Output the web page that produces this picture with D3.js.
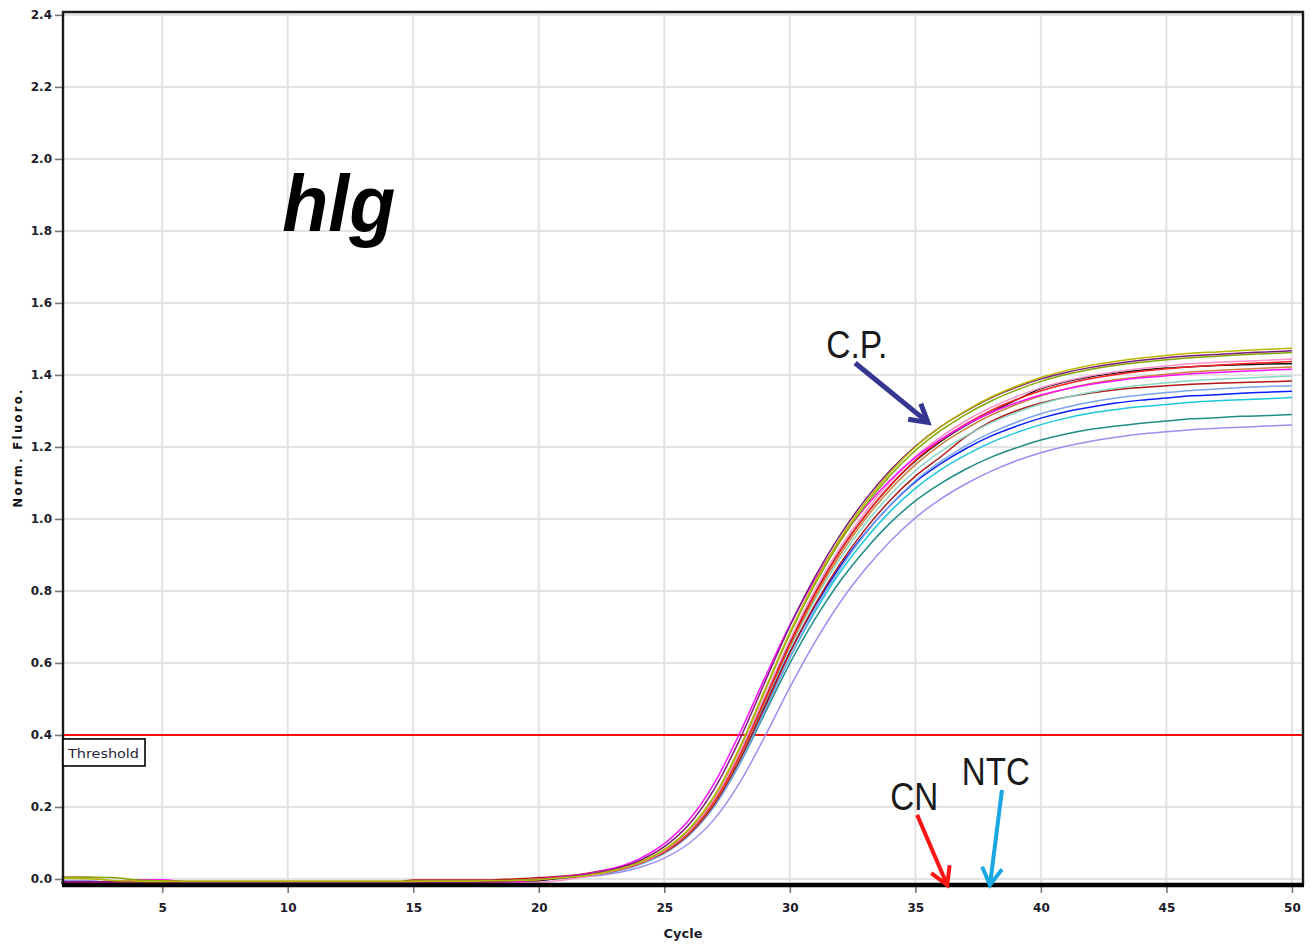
<!DOCTYPE html>
<html>
<head>
<meta charset="utf-8">
<script src="https://cdn.jsdelivr.net/npm/d3@7"></script>
<style>
  html, body { margin: 0; padding: 0; background: #fff; }
  svg { display: block; }
</style>
</head>
<body>
<svg id="chart" width="1314" height="947"></svg>
<script>
// ---- data: normalised fluorescence per amplification cycle ----
const cycles = [1,2,3,4,5,6,7,8,9,10,11,12,13,14,15,16,17,18,19,20,21,22,23,24,25,26,27,28,29,30,31,32,33,34,35,36,37,38,39,40,41,42,43,44,45,46,47,48,49,50];

const xTicks = [5,10,15,20,25,30,35,40,45,50];
const yTicks = [0.0,0.2,0.4,0.6,0.8,1.0,1.2,1.4,1.6,1.8,2.0,2.2,2.4];
const threshold = 0.4;

const lavender = [-0.004,-0.004,-0.010,-0.010,-0.010,-0.010,-0.010,-0.010,-0.010,-0.010,-0.010,-0.010,-0.010,-0.010,-0.010,-0.010,-0.010,-0.010,-0.010,-0.005,
  0.002,0.007,0.016,0.032,0.058,0.100,0.167,0.267,0.395,0.532,0.658,0.768,0.860,0.938,1.003,1.055,1.097,1.132,1.161,1.184,1.202,1.216,1.227,1.236,1.242,1.248,1.252,1.255,1.258,1.261];
const teal = [-0.009,-0.009,-0.009,-0.009,-0.009,-0.009,-0.009,-0.009,-0.009,-0.009,-0.009,-0.009,-0.009,-0.009,-0.009,-0.009,-0.009,-0.009,-0.009,-0.003,
  0.004,0.010,0.021,0.040,0.072,0.123,0.203,0.319,0.459,0.599,0.722,0.827,0.914,0.989,1.050,1.098,1.138,1.171,1.197,1.219,1.236,1.249,1.258,1.266,1.272,1.278,1.281,1.285,1.287,1.290];
const cyan = [-0.009,-0.009,-0.009,-0.009,-0.009,-0.009,-0.009,-0.009,-0.009,-0.009,-0.009,-0.009,-0.009,-0.009,-0.009,-0.009,-0.009,-0.009,-0.009,-0.003,
  0.003,0.010,0.021,0.041,0.073,0.124,0.206,0.325,0.469,0.614,0.742,0.852,0.943,1.021,1.085,1.136,1.177,1.212,1.239,1.262,1.280,1.294,1.304,1.312,1.318,1.324,1.328,1.331,1.334,1.337];
const blue = [-0.010,-0.010,-0.010,-0.010,-0.010,-0.010,-0.010,-0.010,-0.010,-0.010,-0.010,-0.010,-0.010,-0.010,-0.010,-0.010,-0.010,-0.010,-0.010,-0.003,
  0.004,0.010,0.022,0.042,0.075,0.129,0.213,0.335,0.482,0.630,0.758,0.868,0.960,1.038,1.103,1.153,1.195,1.230,1.257,1.280,1.298,1.311,1.322,1.330,1.336,1.342,1.345,1.349,1.352,1.355];
const cornflower = [-0.009,-0.009,-0.009,-0.009,-0.009,-0.009,-0.009,-0.009,-0.009,-0.009,-0.009,-0.009,-0.009,-0.009,-0.009,-0.009,-0.009,-0.009,-0.009,-0.003,
  0.003,0.009,0.021,0.040,0.071,0.122,0.203,0.321,0.466,0.615,0.748,0.862,0.958,1.039,1.106,1.159,1.203,1.239,1.268,1.292,1.310,1.325,1.336,1.344,1.351,1.357,1.361,1.365,1.368,1.370];
const darkRed = [-0.013,-0.013,-0.013,-0.013,-0.013,-0.013,-0.013,-0.013,-0.013,-0.013,-0.013,-0.013,-0.013,-0.013,-0.003,-0.003,-0.003,-0.003,0.000,0.004,
  0.008,0.017,0.030,0.048,0.074,0.126,0.209,0.330,0.477,0.628,0.761,0.875,0.971,1.052,1.119,1.172,1.228,1.270,1.300,1.322,1.338,1.350,1.359,1.365,1.370,1.374,1.377,1.379,1.381,1.383];
const aquamarine = [-0.008,-0.008,-0.008,-0.008,-0.008,-0.008,-0.008,-0.008,-0.008,-0.008,-0.008,-0.008,-0.008,-0.008,-0.008,-0.008,-0.008,-0.008,-0.008,-0.002,
  0.004,0.010,0.022,0.043,0.076,0.130,0.216,0.340,0.490,0.642,0.775,0.890,0.986,1.067,1.134,1.187,1.230,1.267,1.295,1.319,1.338,1.352,1.363,1.371,1.378,1.384,1.388,1.391,1.394,1.397];
const brown = [-0.009,-0.009,-0.009,-0.009,-0.009,-0.009,-0.009,-0.009,-0.009,-0.009,-0.009,-0.009,-0.009,-0.009,-0.009,-0.009,-0.009,-0.009,-0.009,-0.003,
  0.003,0.010,0.022,0.042,0.076,0.130,0.215,0.339,0.491,0.646,0.783,0.900,0.999,1.082,1.151,1.206,1.250,1.288,1.317,1.342,1.361,1.376,1.387,1.395,1.402,1.408,1.412,1.416,1.419,1.422];
const blackWell = [-0.014,-0.014,-0.014,-0.014,-0.014,-0.014,-0.014,-0.014,-0.014,-0.014,-0.014,-0.014,-0.014,-0.014,-0.014,-0.014,-0.014,-0.014,-0.010,-0.005,
  0.004,0.010,0.023,0.044,0.078,0.133,0.221,0.348,0.501,0.657,0.793,0.911,1.009,1.092,1.161,1.215,1.259,1.296,1.330,1.362,1.381,1.395,1.405,1.413,1.419,1.423,1.426,1.428,1.430,1.431];
const red = [-0.009,-0.009,-0.009,-0.009,-0.009,-0.009,-0.009,-0.009,-0.009,-0.009,-0.009,-0.009,-0.009,-0.009,-0.009,-0.009,-0.009,-0.009,-0.004,-0.001,
  0.004,0.010,0.022,0.043,0.076,0.131,0.217,0.343,0.496,0.652,0.791,0.910,1.009,1.093,1.163,1.218,1.263,1.301,1.331,1.356,1.375,1.390,1.401,1.410,1.417,1.423,1.427,1.431,1.434,1.437];
const pink = [0.006,0.006,-0.006,-0.007,-0.007,-0.007,-0.007,-0.007,-0.007,-0.007,-0.007,-0.007,-0.007,-0.007,-0.007,-0.007,-0.007,-0.007,-0.009,-0.009,
  -0.003,0.008,0.023,0.044,0.079,0.134,0.223,0.351,0.507,0.663,0.802,0.920,1.019,1.103,1.173,1.227,1.272,1.309,1.339,1.364,1.383,1.398,1.409,1.418,1.425,1.431,1.435,1.438,1.441,1.444];
const magenta = [-0.008,-0.008,-0.008,-0.002,-0.002,-0.008,-0.008,-0.008,-0.008,-0.008,-0.008,-0.008,-0.008,-0.008,-0.008,-0.008,-0.008,-0.008,-0.008,0.000,
  0.006,0.015,0.030,0.056,0.098,0.165,0.267,0.404,0.558,0.705,0.832,0.941,1.032,1.108,1.171,1.220,1.261,1.295,1.322,1.344,1.361,1.374,1.384,1.392,1.398,1.403,1.407,1.410,1.413,1.416];
const oliveGreen = [0.005,0.005,0.004,-0.003,-0.005,-0.006,-0.006,-0.006,-0.006,-0.006,-0.006,-0.006,-0.006,-0.006,-0.006,-0.006,-0.006,-0.006,-0.004,-0.001,
  0.004,0.011,0.024,0.046,0.081,0.139,0.230,0.362,0.521,0.680,0.818,0.937,1.037,1.121,1.190,1.245,1.290,1.327,1.357,1.382,1.401,1.416,1.427,1.435,1.442,1.448,1.452,1.456,1.459,1.462];
const purple = [-0.008,-0.008,-0.008,-0.008,-0.008,-0.008,-0.008,-0.008,-0.008,-0.008,-0.008,-0.008,-0.008,-0.008,-0.008,-0.008,-0.008,-0.007,-0.005,-0.002,
  0.005,0.013,0.027,0.051,0.090,0.153,0.251,0.387,0.546,0.702,0.839,0.955,1.053,1.135,1.202,1.256,1.299,1.336,1.365,1.389,1.407,1.421,1.432,1.441,1.448,1.453,1.457,1.461,1.464,1.467];
const oliveYellow = [0.002,0.001,-0.004,-0.006,-0.007,-0.007,-0.007,-0.007,-0.007,-0.007,-0.007,-0.007,-0.007,-0.007,-0.007,-0.006,-0.006,-0.005,-0.004,-0.002,
  0.004,0.011,0.024,0.046,0.082,0.140,0.232,0.365,0.525,0.685,0.825,0.945,1.045,1.130,1.200,1.255,1.300,1.338,1.368,1.393,1.412,1.427,1.438,1.447,1.454,1.460,1.464,1.468,1.471,1.474];

// wells in drawing order (last drawn on top)
const wells = [
  { values: lavender,    color: "#9c8ef0" },
  { values: teal,        color: "#1f8c86" },
  { values: cyan,        color: "#1cc8d8" },
  { values: blue,        color: "#0a1eff" },
  { values: cornflower,  color: "#79a4ee" },
  { values: darkRed,     color: "#b01818" },
  { values: aquamarine,  color: "#86d8c4" },
  { values: brown,       color: "#c8843c" },
  { values: blackWell,   color: "#111111" },
  { values: red,         color: "#ff2020" },
  { values: pink,        color: "#ff90c8" },
  { values: magenta,     color: "#ff10ff" },
  { values: oliveGreen,  color: "#80a800" },
  { values: purple,      color: "#7d1a7d" },
  { values: oliveYellow, color: "#b8b800" }
];

// callouts, positioned in (cycle, fluorescence) units
const labels = [
  { text: "C.P.", cycle: 31.45, value: 1.448, size: 38, width: 61, color: "#1a1a1a" },
  { text: "CN",   cycle: 34.0,  value: 0.192, size: 38, width: 48, color: "#1a1a1a" },
  { text: "NTC",  cycle: 36.85, value: 0.262, size: 38, width: 68, color: "#1a1a1a" }
];
const arrows = [
  { from: [32.6, 1.433],  to: [35.5, 1.268],  color: "#363692", width: 5 },
  { from: [35.07, 0.178], to: [36.27, -0.017], color: "#ff1414", width: 4 },
  { from: [38.45, 0.247], to: [37.97, -0.017], color: "#1aa6e2", width: 4 }
];

// ---- layout ----
const svg = d3.select("#chart");
const plotL = 63, plotR = 1303, plotT = 12, plotB = 885;

const x = d3.scaleLinear().domain([1.05, 50.44]).range([plotL, plotR]);
const y = d3.scaleLinear().domain([-0.0167, 2.408]).range([plotB, plotT]);

svg.append("rect").attr("width", 1314).attr("height", 947).attr("fill", "#fff");

// grid
svg.append("g").selectAll("line").data(xTicks).join("line")
  .attr("x1", d => x(d)).attr("x2", d => x(d))
  .attr("y1", plotT).attr("y2", plotB)
  .attr("stroke", "#e3e3e3").attr("stroke-width", 2);
svg.append("g").selectAll("line").data(yTicks).join("line")
  .attr("x1", plotL).attr("x2", plotR)
  .attr("y1", d => y(d)).attr("y2", d => y(d))
  .attr("stroke", "#e3e3e3").attr("stroke-width", 2);

// axes
const tickFont = "'DejaVu Sans', Verdana, sans-serif";
const xAxis = d3.axisBottom(x).tickValues(xTicks).tickSize(8).tickPadding(10).tickFormat(d3.format("d"));
const gx = svg.append("g").attr("transform", `translate(0,${plotB})`).call(xAxis);
const yAxis = d3.axisLeft(y).tickValues(yTicks).tickSize(8).tickPadding(3).tickFormat(d3.format(".1f"));
const gy = svg.append("g").attr("transform", `translate(${plotL},0)`).call(yAxis);
[gx, gy].forEach(g => {
  g.select(".domain").remove();
  g.selectAll(".tick line").attr("stroke", "#777").attr("stroke-width", 1.6);
  g.selectAll(".tick text")
    .attr("fill", "#1c1c2a")
    .style("font-family", tickFont)
    .style("font-size", "12px")
    .style("font-weight", "bold");
});

// threshold
svg.append("line")
  .attr("x1", plotL).attr("x2", plotR)
  .attr("y1", y(threshold)).attr("y2", y(threshold))
  .attr("stroke", "#ff0a0a").attr("stroke-width", 2);

// amplification curves
const line = d3.line()
  .x((d, i) => x(cycles[i]))
  .y(d => y(d))
  .curve(d3.curveMonotoneX);
svg.append("g").selectAll("path").data(wells).join("path")
  .attr("d", d => line(d.values))
  .attr("fill", "none")
  .attr("stroke", d => d.color)
  .attr("stroke-width", 1.5);

// frame
svg.append("path")
  .attr("d", `M${plotL},${plotB} L${plotL},${plotT} L${plotR},${plotT} L${plotR},${plotB}`)
  .attr("fill", "none").attr("stroke", "#1a1a1a").attr("stroke-width", 2.4);
svg.append("line")
  .attr("x1", plotL - 1).attr("x2", plotR + 1)
  .attr("y1", plotB).attr("y2", plotB)
  .attr("stroke", "#000").attr("stroke-width", 4.5);

// threshold tag
const tag = svg.append("g");
tag.append("rect")
  .attr("x", plotL).attr("y", y(threshold) + 4)
  .attr("width", 82).attr("height", 27)
  .attr("fill", "#fff").attr("stroke", "#000").attr("stroke-width", 1.6);
tag.append("text")
  .attr("x", plotL + 5).attr("y", y(threshold) + 23)
  .attr("textLength", 71).attr("lengthAdjust", "spacingAndGlyphs")
  .attr("fill", "#2a1f3a")
  .style("font-family", tickFont).style("font-size", "12px")
  .text("Threshold");

// axis titles
svg.append("text")
  .attr("x", (plotL + plotR) / 2).attr("y", 938)
  .attr("text-anchor", "middle")
  .attr("fill", "#1c1c2a")
  .style("font-family", tickFont).style("font-size", "13px").style("font-weight", "bold")
  .text("Cycle");
svg.append("text")
  .attr("transform", `translate(22,${(plotT + plotB) / 2}) rotate(-90)`)
  .attr("text-anchor", "middle")
  .attr("textLength", 118).attr("lengthAdjust", "spacing")
  .attr("fill", "#111")
  .style("font-family", tickFont).style("font-size", "11.5px").style("font-weight", "bold")
  .text("Norm. Fluoro.");

// gene name
svg.append("text")
  .attr("x", x(9.78)).attr("y", y(1.80))
  .attr("textLength", 113).attr("lengthAdjust", "spacingAndGlyphs")
  .attr("fill", "#000")
  .style("font-family", "'Liberation Sans', Arial, sans-serif")
  .style("font-size", "80px").style("font-style", "italic").style("font-weight", "bold")
  .text("hlg");

// callout text
svg.append("g").selectAll("text").data(labels).join("text")
  .attr("x", d => x(d.cycle)).attr("y", d => y(d.value))
  .attr("textLength", d => d.width).attr("lengthAdjust", "spacingAndGlyphs")
  .attr("fill", d => d.color)
  .style("font-family", "'Liberation Sans', Arial, sans-serif")
  .style("font-size", d => d.size + "px")
  .text(d => d.text);

// callout arrows with open barbed heads
const ag = svg.append("g");
arrows.forEach(a => {
  const x0 = x(a.from[0]), y0 = y(a.from[1]);
  const x1 = x(a.to[0]), y1 = y(a.to[1]);
  const ang = Math.atan2(y1 - y0, x1 - x0);
  const L = 20, spread = Math.PI / 6;
  const b1 = [x1 - L * Math.cos(ang - spread), y1 - L * Math.sin(ang - spread)];
  const b2 = [x1 - L * Math.cos(ang + spread), y1 - L * Math.sin(ang + spread)];
  ag.append("line")
    .attr("x1", x0).attr("y1", y0).attr("x2", x1 - 2 * Math.cos(ang)).attr("y2", y1 - 2 * Math.sin(ang))
    .attr("stroke", a.color).attr("stroke-width", a.width).attr("stroke-linecap", "butt");
  ag.append("path")
    .attr("d", `M${b1[0]},${b1[1]} L${x1},${y1} L${b2[0]},${b2[1]}`)
    .attr("fill", "none").attr("stroke", a.color).attr("stroke-width", a.width)
    .attr("stroke-linejoin", "miter").attr("stroke-miterlimit", 10);
});
</script>
</body>
</html>
